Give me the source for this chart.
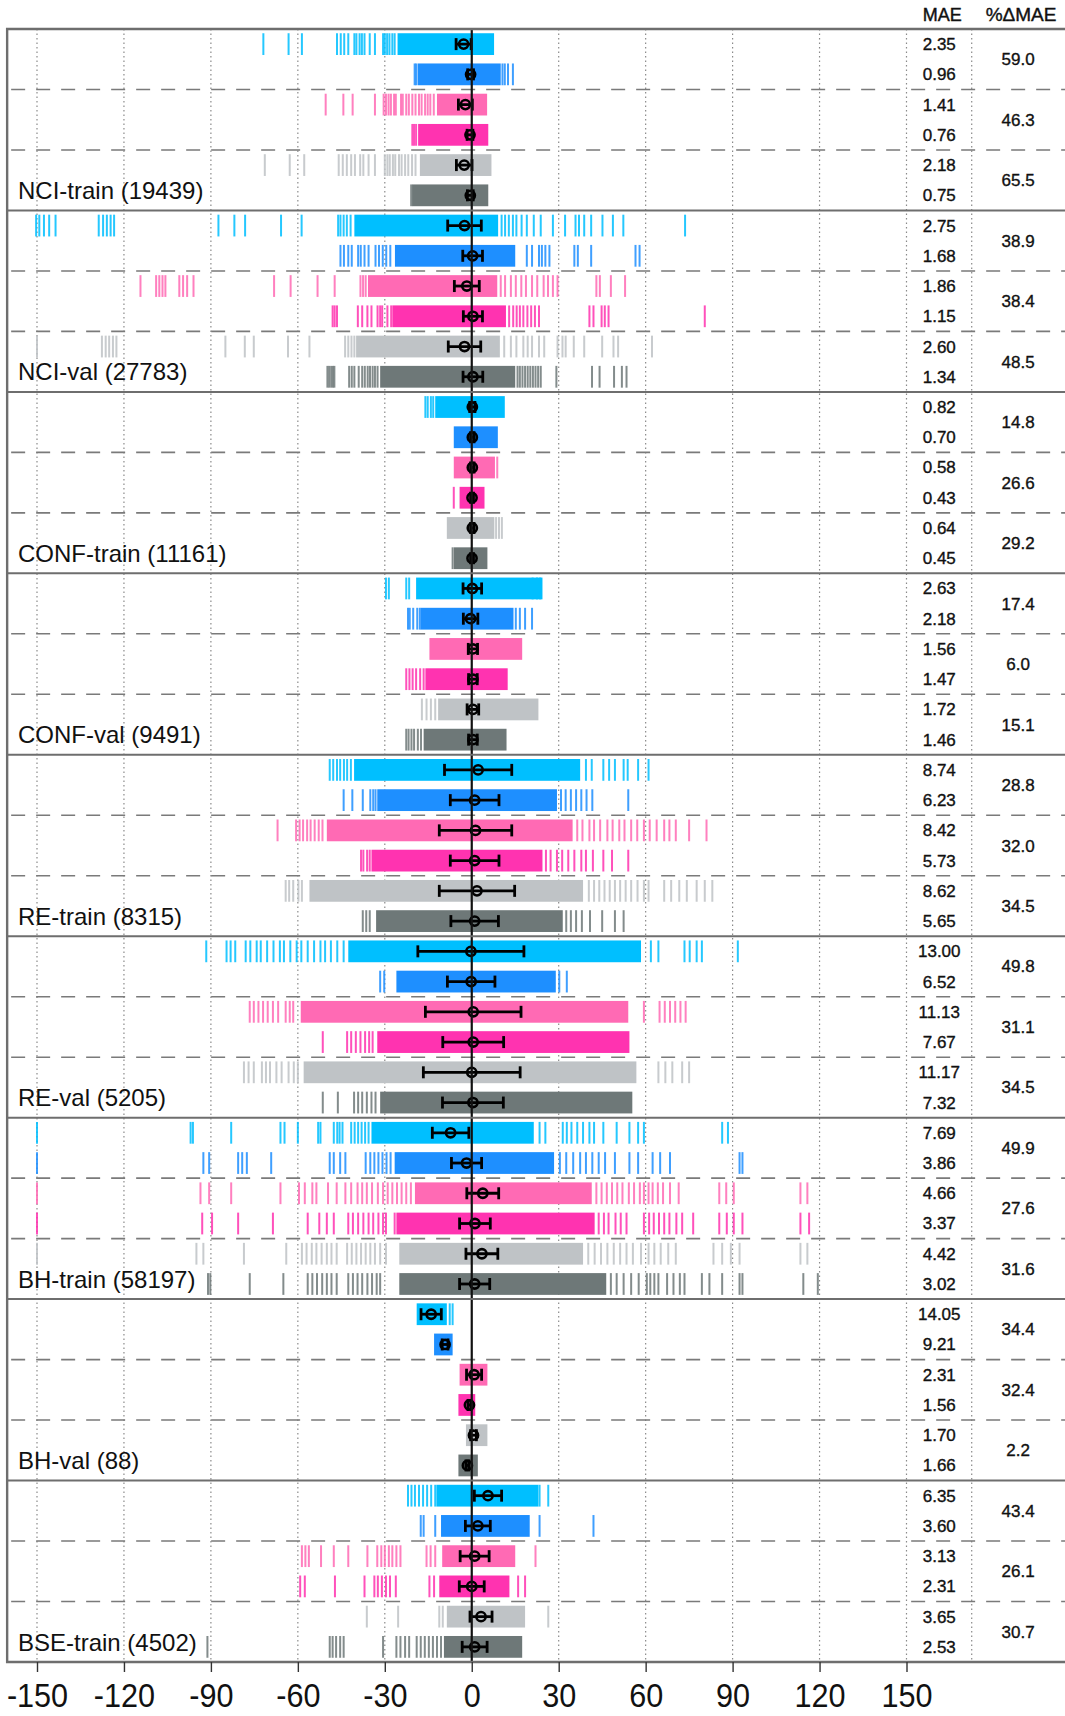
<!DOCTYPE html>
<html>
<head>
<meta charset="utf-8">
<script src="https://cdn.jsdelivr.net/npm/d3@7"></script>
<style>
body { margin: 0; background: #fff; }
text { font-family: "Liberation Sans", Arial, sans-serif; }
</style>
</head>
<body>
<div id="chart-holder"></div>
<script>
// dataset names (one block of 6 rows each)
var groups = ['NCI-train (19439)', 'NCI-val (27783)', 'CONF-train (11161)', 'CONF-val (9491)',
    'RE-train (8315)', 'RE-val (5205)', 'BH-train (58197)', 'BH-val (88)', 'BSE-train (4502)'];

// MAE per row
var mae = [
    ['2.35', '0.96', '1.41', '0.76', '2.18', '0.75'],
    ['2.75', '1.68', '1.86', '1.15', '2.60', '1.34'],
    ['0.82', '0.70', '0.58', '0.43', '0.64', '0.45'],
    ['2.63', '2.18', '1.56', '1.47', '1.72', '1.46'],
    ['8.74', '6.23', '8.42', '5.73', '8.62', '5.65'],
    ['13.00', '6.52', '11.13', '7.67', '11.17', '7.32'],
    ['7.69', '3.86', '4.66', '3.37', '4.42', '3.02'],
    ['14.05', '9.21', '2.31', '1.56', '1.70', '1.66'],
    ['6.35', '3.60', '3.13', '2.31', '3.65', '2.53']
];

// %dMAE per pair of rows
var pctDelta = [
    ['59.0', '46.3', '65.5'],
    ['38.9', '38.4', '48.5'],
    ['14.8', '26.6', '29.2'],
    ['17.4', '6.0', '15.1'],
    ['28.8', '32.0', '34.5'],
    ['49.8', '31.1', '34.5'],
    ['49.9', '27.6', '31.6'],
    ['34.4', '32.4', '2.2'],
    ['43.4', '26.1', '30.7']
];

// dense part of each error distribution [lo, hi]
var coreRanges = [
    [[-25.6, 7.7], [-18.7, 10], [-12, 5.3], [-18.5, 5.7], [-17.9, 6.8], [-20.6, 5.7]],
    [[-40.5, 9.1], [-26.5, 15], [-35.8, 8.8], [-27.4, 11.8], [-39.9, 9.7], [-31.6, 15]],
    [[-12.6, 11.4], [-6.2, 9], [-6.2, 8], [-4.2, 4.4], [-8.6, 7.8], [-6.2, 5.4]],
    [[-19.2, 24.4], [-17.6, 14.4], [-14.6, 17.4], [-16, 12.4], [-11.6, 23], [-16.6, 12]],
    [[-40.6, 37.4], [-32.6, 29.4], [-50, 34.8], [-34.6, 24.4], [-56, 38.4], [-33, 31.4]],
    [[-42.6, 58.4], [-26, 29], [-59, 54], [-32.6, 54.4], [-58, 56.8], [-31.6, 55.4]],
    [[-34.6, 21.4], [-26.6, 28.4], [-19.6, 41.4], [-26, 42.4], [-25, 38.4], [-25, 46.4]],
    [[-19, -8.6], [-13, -6.6], [-4.2, 5.4], [-4.6, 1.2], [-2, 5.4], [-4.6, 2.1]],
    [[-12.2, 23], [-10.6, 20], [-10.2, 15], [-11.2, 13], [-8.6, 18.4], [-9.6, 17.4]]
];

// mean error per row
var means = [
    [-2.8, -0.4, -2.2, -0.6, -2.6, -0.5],
    [-2.5, 0.3, -1.7, 0.4, -2.5, 0.4],
    [0.2, 0.2, 0.2, 0.1, 0.2, 0.1],
    [0.2, -0.4, 0.4, 0.4, 0.4, 0.4],
    [2.2, 1, 1.3, 1, 1.8, 1],
    [-0.3, -0.2, 0.5, 0.5, 0, 0.4],
    [-7.3, -1.8, 3.8, 1.1, 3.5, 1],
    [-14, -9.2, 0.8, -0.8, 0.6, -1.5],
    [5.6, 2.1, 1, 0, 3.2, 1]
];

// error bar half width per row
var errs = [
    [2.6, 1, 2.4, 1, 2.7, 1],
    [5.8, 3.4, 4.3, 3.3, 5.6, 3.4],
    [0.9, 0.6, 0.6, 0.5, 0.6, 0.5],
    [3.2, 2.5, 1.6, 1.5, 2, 1.5],
    [11.6, 8.4, 12.5, 8.4, 13, 8.2],
    [18.3, 8.2, 16.5, 10.5, 16.7, 10.5],
    [6.3, 5.2, 5.5, 5.3, 5.5, 5.2],
    [3.5, 1, 2.6, 0.5, 1, 0.5],
    [4.7, 4.3, 5, 4.3, 3.8, 4.3]
];

// isolated errors drawn as rug ticks
var outliers = [
    [
        [-71.9, -63.2, -58.6, -46.5, -45.2, -44, -42.6, -40.5, -39.8, -38.7, -37.9, -37, -35.2, -33.4, -30.6, -30, -29.2, -28.4, -27.4, -26.6],
        [-19.7, -19.2, 10.6, 11.4, 12.5, 14.2],
        [-50.4, -44.3, -41.1, -33.4, -30.4, -29.6, -28.7, -27.9, -26.8, -26.2, -24.4, -23.8, -22.6, -21.7, -20.5, -19.4, -18.2, -17.3, -16.1, -15.2, -14.3, -13.1],
        [-20.5, -19.9, -19.2],
        [-71.4, -62.8, -57.8, -45.9, -44.5, -43.1, -41.6, -40.3, -38.5, -37.4, -35.6, -33.4, -30, -29.1, -28.3, -27.2, -26.4, -25.1, -24.2, -23, -21.9, -20.6, -19.4],
        [-20.9]
    ],
    [
        [-150.3, -149.2, -147.6, -145.8, -143.6, -128.7, -127.2, -125.9, -124.6, -123.4, -87.4, -81.9, -78.2, -65.8, -58.7, -46.1, -45.3, -44.2, -43.1, -41.8,
            10.3, 11.5, 12.8, 14.2, 15.4, 17.2, 19, 21.4, 23.8, 28, 32.2, 35.8, 37, 38.8, 41.2, 45.1, 48.7, 52.3, 73.6],
        [-45.3, -44.1, -42.6, -41.4, -39.2, -38.3, -37, -35.6, -33.2, -32, -30.7, -29.5, -28.1, 19, 20.8, 23.2, 24.2, 25.4, 26.8, 35.4, 36.6, 41.2, 56.5, 57.9],
        [-114.3, -108.9, -107.8, -106.7, -105.7, -100.9, -99.6, -98.2, -96, -68.2, -62.5, -53.2, -47.3, -38.4, -37.5, -36.6,
            10, 11.5, 13.5, 15.2, 17.1, 18.7, 20.8, 22.6, 24.8, 26.3, 28, 29.6, 43, 44.2, 48, 52.9],
        [-48, -47.3, -46.5, -39.3, -37.8, -36, -34.6, -32.5, -31.6, -30.9, -29.1, -27.8, 12.9, 14.3, 15.5, 16.6, 17.8, 19.2, 20.5, 21.8, 23.2, 40.6, 42, 44.8, 45.9, 47.2, 80.4],
        [-150, -127.6, -126.3, -125.1, -123.8, -122.6, -85, -78.3, -75.2, -63.4, -56, -43.7, -42.6, -41.5, -40.5,
            11.2, 13.5, 15.4, 17.8, 19.3, 20.8, 23.2, 25, 29.6, 31.3, 32.4, 35.2, 38.8, 45, 48.9, 50.5, 62.2],
        [-49.8, -49.2, -48.5, -47.9, -47.4, -42.3, -41.4, -40.5, -39, -37.8, -36.9, -35.9, -35.1, -34.2, -33.4, -32.5,
            15.8, 16.6, 17.5, 18.4, 19.3, 20.2, 21.1, 22, 22.9, 23.8, 29.2, 41.5, 44.1, 49.1, 51.8, 53.4]
    ],
    [
        [-16, -15.2, -14.1, -13.3],
        [],
        [8.8],
        [-6.2],
        [8.4, 9.4, 10.4],
        [-6.6]
    ],
    [
        [-29.6, -28.6, -22.6, -21.6, 21, 22.5, 23.6],
        [-22, -21.4, -20.2, -18.8, -17.9, 15.2, 16.6, 18.4, 20.8],
        [],
        [-22.6, -21.5, -20.4, -19.2, -17.8, -16.6],
        [-17.2, -15.6, -14.1, -12.6],
        [-22.6, -21.8, -20.8, -19.9, -18.6, -17.5]
    ],
    [
        [-49, -47.8, -46.5, -45.4, -44.1, -43, -41.7, 39.4, 41.4, 45.4, 47.4, 49.4, 52.4, 53.8, 57.4, 61],
        [-44.2, -41.2, -37.6, -35, -34, -33.2, 30.8, 32.4, 34.2, 36, 37.8, 39.6, 41.6, 54],
        [-67, -60.6, -59.4, -58.2, -56.8, -55.6, -54.2, -52.8, -51.5, 36.4, 38.2, 40.6, 42.2, 44.3, 46.8, 48.6, 50.9, 52.7, 55, 57.1, 59.4, 61.4, 63.8, 66.4, 68.2, 70.4, 75, 81],
        [-38.2, -37.4, -36.1, -35.2, 25.6, 27.2, 29.4, 31.2, 33.3, 35.4, 37.8, 39.4, 41.8, 45.4, 48.4, 54],
        [-64.2, -63, -61.6, -59.8, -58.6, 40.4, 42.2, 44, 45.8, 47.6, 49.4, 51.2, 53.1, 55, 57.2, 59.4, 61, 66.4, 68.8, 71.6, 74.2, 77.6, 80.4, 83],
        [-37.6, -36.4, -35.2, 32.6, 34.2, 36, 38, 40.8, 45, 49.4, 52.4]
    ],
    [
        [-91.6, -84.6, -83.2, -81.6, -78, -76.4, -74.2, -72.8, -70.6, -68.4, -66.2, -64.8, -62.6, -60.4, -58.8, -56.6, -54.4, -52.2, -50.6, -48.6, -46.4, -44.2,
            61.8, 64.4, 73.4, 75.2, 77.6, 79.4, 91.8],
        [-31.6, -30.2, 30.2, 32.8],
        [-76.6, -75.2, -73.6, -72, -70.4, -68.6, -66.8, -64.2, -62.8, -61.6, 59.4, 64.8, 66.6, 68.4, 70.2, 72, 73.8],
        [-51.4, -43, -41.6, -40, -38.4, -36.8, -35.4, -34.2],
        [-78.6, -77, -75.2, -72.4, -71, -69.6, -67.4, -65.6, -63.2, -61.4, -60, 64.4, 66.8, 69.2, 72.6, 75],
        [-51.4, -46.2, -40.6, -39.2, -37.8, -36.2, -34.6, -33.2]
    ],
    [
        [-150, -97, -96.2, -83, -66, -64.6, -60, -53, -52.2, -47.6, -46.4, -45.6, -44.6, -41.6, -40.4, -39.2, -38, -36.8, -35.6,
            23.4, 25.4, 31.4, 32.8, 34.4, 36.4, 38.4, 40.6, 42.2, 45.4, 50, 54.4, 57.4, 59.4, 86.4, 88.4],
        [-150, -92.6, -90.6, -80.6, -79.2, -77.6, -69.2, -49, -47.6, -45.4, -43.6, -36.6, -35, -33.6, -32.2, -30.8, -29.4, -28,
            30.4, 32.6, 35, 37.4, 39.4, 41.6, 43.8, 46, 49.4, 54.4, 57.4, 62.4, 65, 68.4, 92.4, 93.4],
        [-150, -93.6, -90.6, -83, -66, -59.6, -57.6, -55, -53.6, -49.6, -46.6, -43.6, -41.6, -39.4, -37.8, -36.2, -34.4, -32.4, -30.6, -29, -27.4, -25.8, -24.2, -22.6, -21,
            43, 44.8, 46.6, 48.4, 50.2, 52, 54.2, 56, 58, 59.4, 61, 62.4, 64.2, 66, 68.4, 71.4, 85.4, 87.8, 90.4, 113.4, 115.8],
        [-150, -93, -89.6, -80.6, -68.6, -56.6, -52.6, -50, -47.6, -42.6, -41, -39.2, -37.4, -35.6, -34, -32.2, -30.6, -29.6, -26.6,
            43.8, 45.6, 47.2, 49.6, 51.4, 53.4, 59.4, 61.2, 62.8, 64.6, 66.4, 68.2, 70.6, 72.6, 76.4, 85.4, 88, 90.4, 93.4, 113.4, 116.4],
        [-150, -95, -92.6, -78.6, -64, -58.6, -57, -55.2, -53.6, -51.8, -50, -48.4, -46.6, -43, -41.4, -39.8, -38.2, -36.6, -35, -33.4, -31.6, -29.6,
            40.2, 42.4, 44.6, 46.8, 49, 51.2, 53.4, 55.6, 58.4, 61, 63, 65.2, 67.8, 70.4, 83.4, 86.4, 89.4, 92.4, 113.4, 115.8],
        [-91, -90.2, -76.6, -65, -56.6, -55, -53.4, -51.6, -50, -48.4, -46.6, -42.6, -41, -39.4, -37.8, -36, -34.4, -32.8, -31.6,
            48, 50, 52.4, 55, 57.6, 60.4, 61.6, 63, 64.4, 67.4, 69.6, 71.8, 73.4, 79.4, 82, 86.4, 92.4, 93.4, 114.4, 119.4]
    ],
    [
        [-7.6, -6.6],
        [],
        [],
        [],
        [],
        []
    ],
    [
        [-22, -20.8, -19.6, -18.2, -16.8, -15.4, -14, -12.6, 23.4, 26.4],
        [-17.6, -16.6, -12.6, 23.4, 42],
        [-58.6, -57.4, -56.2, -52, -47.6, -42.6, -36, -32.6, -31.2, -30, -28.6, -27.4, -26, -24.6, -15.6, -14.2, -12.6, 22],
        [-59.2, -57.6, -47.2, -37, -33.6, -32.4, -31, -29.6, -28.2, -26.2, -14.6, -13, 16, 18.4],
        [-36.2, -25.4, -11.2, -10, 26.4],
        [-91.2, -49, -48, -46.8, -45.4, -44.2, -30.6, -26, -24.6, -23, -21.6, -19, -17.6, -16.2, -14.8, -13.4, -12, -10.6]
    ]
];

// x tick labels
var xTicks = [-150, -120, -90, -60, -30, 0, 30, 60, 90, 120, 150];

// row colours (same order in every block)
var rowColors = ['#00bfff', '#1e8fff', '#ff6ab4', '#ff33b0', '#bfc3c6', '#6e7878'];

function buildChart(containerId) {
    // size globals
    var width = 1065;
    var height = 1716;
    var top = 29;
    var bottom = 1662;

    var svg = d3
        .select(containerId)
        .append('svg')
        .attr('width', width)
        .attr('height', height);

    // flatten rows
    var rows = [];
    groups.forEach(function(name, gi) {
        for (var r = 0; r < 6; r++) {
            rows.push({
                g: gi,
                r: r,
                i: gi * 6 + r,
                lo: coreRanges[gi][r][0],
                hi: coreRanges[gi][r][1],
                mean: means[gi][r],
                err: errs[gi][r],
                ticks: outliers[gi][r],
                mae: mae[gi][r]
            });
        }
    });

    // scales
    var x = d3
        .scaleLinear()
        .domain([-150, 150])
        .range([37, 906.5]);

    var y = d3
        .scaleBand()
        .domain(d3.range(rows.length))
        .range([top, bottom])
        .paddingInner(0.28)
        .paddingOuter(0.14);

    var step = y.step();
    var left = x(-160.3);
    var maeX = x(161.3);
    var sepX = x(172.5);
    var pctX = x(188.5);

    // vertical dotted grid
    svg
        .selectAll('.grid')
        .data(xTicks.filter(function(d) { return d !== 0; }).map(x).concat([sepX]))
        .enter()
        .append('line')
        .attr('class', 'grid')
        .attr('x1', function(d) { return d; })
        .attr('x2', function(d) { return d; })
        .attr('y1', top)
        .attr('y2', bottom)
        .attr('stroke', '#8a8a8a')
        .attr('stroke-width', 1.2)
        .attr('stroke-dasharray', '1.5,3');

    // dashed separators between pairs
    var dashYs = [];
    groups.forEach(function(name, gi) {
        dashYs.push(top + (gi * 6 + 2) * step);
        dashYs.push(top + (gi * 6 + 4) * step);
    });

    svg
        .selectAll('.pair-line')
        .data(dashYs)
        .enter()
        .append('line')
        .attr('class', 'pair-line')
        .attr('x1', left + 4)
        .attr('x2', width)
        .attr('y1', function(d) { return d; })
        .attr('y2', function(d) { return d; })
        .attr('stroke', '#7a7a7a')
        .attr('stroke-width', 1.6)
        .attr('stroke-dasharray', '14,11');

    // one group per row
    var rowG = svg
        .selectAll('.row')
        .data(rows)
        .enter()
        .append('g')
        .attr('class', 'row')
        .attr('transform', function(d) { return 'translate(0,' + y(d.i) + ')'; });

    // rug ticks
    rowG
        .selectAll('.rug')
        .data(function(d) {
            return d.ticks.map(function(v) { return { v: v, r: d.r }; });
        })
        .enter()
        .append('line')
        .attr('class', 'rug')
        .attr('x1', function(d) { return x(d.v); })
        .attr('x2', function(d) { return x(d.v); })
        .attr('y1', 0)
        .attr('y2', y.bandwidth())
        .attr('stroke', function(d) { return rowColors[d.r]; })
        .attr('stroke-width', 2)
        .attr('opacity', 0.85);

    // dense core
    rowG
        .append('rect')
        .attr('x', function(d) { return x(d.lo); })
        .attr('y', 0)
        .attr('width', function(d) { return x(d.hi) - x(d.lo); })
        .attr('height', y.bandwidth())
        .attr('fill', function(d) { return rowColors[d.r]; });

    // zero line
    svg
        .append('line')
        .attr('x1', x(0))
        .attr('x2', x(0))
        .attr('y1', top)
        .attr('y2', bottom)
        .attr('stroke', '#111')
        .attr('stroke-width', 2.2);

    // mean and error bars
    var mid = y.bandwidth() / 2;

    rowG
        .append('line')
        .attr('x1', function(d) { return x(d.mean - d.err); })
        .attr('x2', function(d) { return x(d.mean + d.err); })
        .attr('y1', mid)
        .attr('y2', mid)
        .attr('stroke', '#000')
        .attr('stroke-width', 2.8);

    [-1, 1].forEach(function(side) {
        rowG
            .append('line')
            .attr('x1', function(d) { return x(d.mean + side * d.err); })
            .attr('x2', function(d) { return x(d.mean + side * d.err); })
            .attr('y1', mid - 6)
            .attr('y2', mid + 6)
            .attr('stroke', '#000')
            .attr('stroke-width', 2.8);
    });

    rowG
        .append('circle')
        .attr('cx', function(d) { return x(d.mean); })
        .attr('cy', mid)
        .attr('r', 4.6)
        .attr('fill', 'none')
        .attr('stroke', '#000')
        .attr('stroke-width', 2.6);

    // MAE column
    rowG
        .append('text')
        .attr('x', maeX)
        .attr('y', mid + 6)
        .attr('text-anchor', 'middle')
        .style('font-size', '17px')
        .attr('fill', '#111')
        .attr('stroke', '#111')
        .attr('stroke-width', 0.35)
        .text(function(d) { return d.mae; });

    // %dMAE column
    var pctData = [];
    pctDelta.forEach(function(list, gi) {
        list.forEach(function(v, p) {
            pctData.push({ v: v, yc: top + (gi * 6 + p * 2 + 1) * step });
        });
    });

    svg
        .selectAll('.pct')
        .data(pctData)
        .enter()
        .append('text')
        .attr('class', 'pct')
        .attr('x', pctX)
        .attr('y', function(d) { return d.yc + 6; })
        .attr('text-anchor', 'middle')
        .style('font-size', '17px')
        .attr('fill', '#111')
        .attr('stroke', '#111')
        .attr('stroke-width', 0.35)
        .text(function(d) { return d.v; });

    // group separators
    svg
        .selectAll('.sep')
        .data(d3.range(1, groups.length))
        .enter()
        .append('line')
        .attr('class', 'sep')
        .attr('x1', left)
        .attr('x2', width)
        .attr('y1', function(d) { return top + d * 6 * step; })
        .attr('y2', function(d) { return top + d * 6 * step; })
        .attr('stroke', '#6e6e6e')
        .attr('stroke-width', 2);

    // group labels
    svg
        .selectAll('.glabel')
        .data(groups)
        .enter()
        .append('text')
        .attr('class', 'glabel')
        .attr('x', 18)
        .attr('y', function(d, i) { return top + (i + 1) * 6 * step - 11.5; })
        .style('font-size', '24px')
        .attr('fill', '#111')
        .text(function(d) { return d; });

    // frame
    svg
        .append('path')
        .attr('d', 'M' + (width + 2) + ',' + top + 'H' + left + 'V' + bottom + 'H' + (width + 2))
        .attr('fill', 'none')
        .attr('stroke', '#6e6e6e')
        .attr('stroke-width', 2.4);

    // column headers
    svg
        .append('text')
        .attr('x', maeX + 3)
        .attr('y', 21)
        .attr('text-anchor', 'middle')
        .style('font-size', '18px')
        .attr('fill', '#111')
        .attr('stroke', '#111')
        .attr('stroke-width', 0.4)
        .text('MAE');

    svg
        .append('text')
        .attr('x', pctX + 3)
        .attr('y', 21)
        .attr('text-anchor', 'middle')
        .style('font-size', '19px')
        .attr('fill', '#111')
        .attr('stroke', '#111')
        .attr('stroke-width', 0.4)
        .text('%ΔMAE');

    // x axis
    var xAxis = d3
        .axisBottom(x)
        .tickValues(xTicks)
        .tickSize(10)
        .tickPadding(11)
        .tickFormat(function(d) { return String(d); });

    var axisG = svg
        .append('g')
        .attr('class', 'x-axis')
        .attr('transform', 'translate(0,' + bottom + ')')
        .call(xAxis);

    axisG.select('.domain').remove();
    axisG.selectAll('line').attr('stroke', '#333').attr('stroke-width', 1.4);
    axisG
        .selectAll('text')
        .attr('transform', 'scale(0.9,1)')
        .style('font-size', '34px')
        .style('font-family', '"Liberation Sans", Arial, sans-serif')
        .attr('fill', '#111');
}

buildChart('#chart-holder');
</script>
</body>
</html>
